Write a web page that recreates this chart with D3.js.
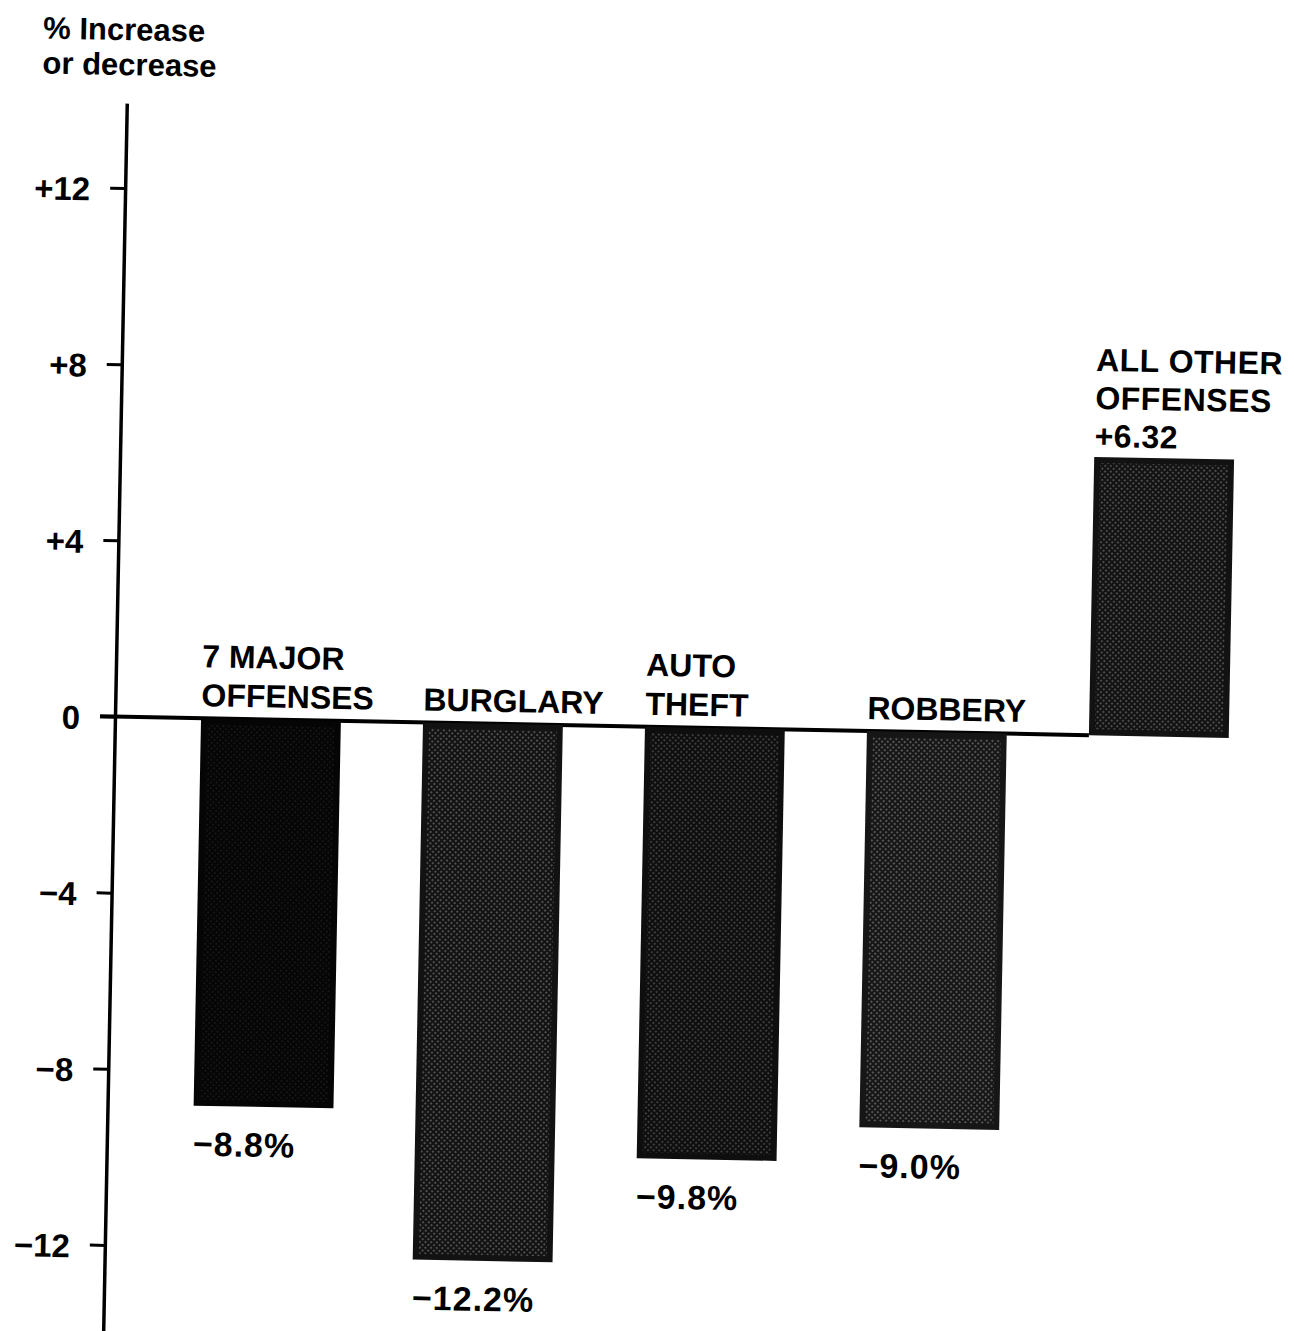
<!DOCTYPE html>
<html><head><meta charset="utf-8">
<script src="https://cdn.jsdelivr.net/npm/d3@7"></script>
<style>
body{margin:0;background:#fff}
svg text{font-family:"Liberation Sans",Arial,sans-serif;font-weight:bold;fill:#000}
</style>
</head><body><svg id="c" width="1294" height="1331"></svg>
<script>
// ---- data ----
const categoryKeys = ["major","burglary","auto","robbery","other"];
const categoryLines = [["7 MAJOR","OFFENSES"],["BURGLARY"],["AUTO","THEFT"],["ROBBERY"],["ALL OTHER","OFFENSES"]];
const values = [-8.8,-12.2,-9.8,-9.0,6.32];
const valueLabels = ["\u22128.8%","\u221212.2%","\u22129.8%","\u22129.0%","+6.32"];
const tickValues = [12,8,4,0,-4,-8,-12];
const tickLabels = ["+12","+8","+4","0","\u22124","\u22128","\u221212"];
const axisTitle = ["% Increase","or decrease"];

// ---- styles ----
const barBase = ["#050505","#121212","#0e0e0e","#161616","#121212"];
const dotOpacity = [0.08,0.32,0.24,0.34,0.30];

const svg = d3.select("#c");
const defs = svg.append("defs");
const pat = defs.append("pattern").attr("id","ht").attr("width",4).attr("height",4)
  .attr("patternUnits","userSpaceOnUse").attr("patternTransform","rotate(45)");
pat.append("circle").attr("cx",2).attr("cy",2).attr("r",1.05).attr("fill","#fff");

const axisX = 115;
const g = svg.append("g").attr("transform","rotate(1.1,115,716.5)");

const x = d3.scaleBand().domain(categoryKeys).range([160,1270]).paddingInner(0.37).paddingOuter(0.185);
const y = d3.scaleLinear().domain([-14.6,13.93]).range([1359.5,103]);

// title
g.append("text").selectAll("tspan").data(axisTitle).join("tspan")
  .attr("x",30).attr("y",(d,i)=>40+i*35).style("font-size","31px").text(d=>d);

// axis
const ax = g.append("g").attr("transform",`translate(${axisX},0)`)
  .call(d3.axisLeft(y).tickValues(tickValues).tickFormat((d,i)=>tickLabels[i])
    .tickSize(15).tickSizeOuter(0).tickPadding(20));
ax.select(".domain").attr("stroke","#000").attr("stroke-width",3.5);
ax.selectAll(".tick line").attr("stroke","#000").attr("stroke-width",3);
ax.selectAll(".tick text").style("font-size","33px").style("font-family","'Liberation Sans',Arial,sans-serif")
  .style("font-weight","bold").attr("fill","#000").attr("dy","0.38em");

// zero line
g.append("line").attr("x1",axisX-15).attr("x2",x(categoryKeys[4]))
  .attr("y1",y(0)).attr("y2",y(0)).attr("stroke","#000").attr("stroke-width",4);

// bars
const bars = g.append("g").selectAll("g").data(values).join("g");
bars.append("rect")
  .attr("x",(d,i)=>x(categoryKeys[i])).attr("width",x.bandwidth())
  .attr("y",d=>Math.min(y(d),y(0))).attr("height",d=>Math.abs(y(d)-y(0)))
  .attr("fill",(d,i)=>barBase[i]);
bars.append("rect")
  .attr("x",(d,i)=>x(categoryKeys[i])+6).attr("width",x.bandwidth()-12)
  .attr("y",d=>Math.min(y(d),y(0))+6).attr("height",d=>Math.abs(y(d)-y(0))-12)
  .attr("fill","url(#ht)").attr("opacity",(d,i)=>dotOpacity[i]);

// category labels & value labels
values.forEach((v,i)=>{
  const bx = x(categoryKeys[i]);
  if (v < 0) {
    const lines = categoryLines[i];
    lines.forEach((t,j)=>{
      g.append("text").attr("x",bx).attr("y",y(0)-12-(lines.length-1-j)*39)
        .style("font-size","32px").text(t);
    });
    g.append("text").attr("x",bx).attr("y",y(v)+50)
      .style("font-size","34px").style("letter-spacing","1px").text(valueLabels[i]);
  } else {
    const lines = categoryLines[i].concat([valueLabels[i]]);
    lines.forEach((t,j)=>{
      g.append("text").attr("x",bx).attr("y",y(v)-10-(lines.length-1-j)*38)
        .style("font-size","32px").style("letter-spacing","0.5px").text(t);
    });
  }
});
</script>
</body></html>
